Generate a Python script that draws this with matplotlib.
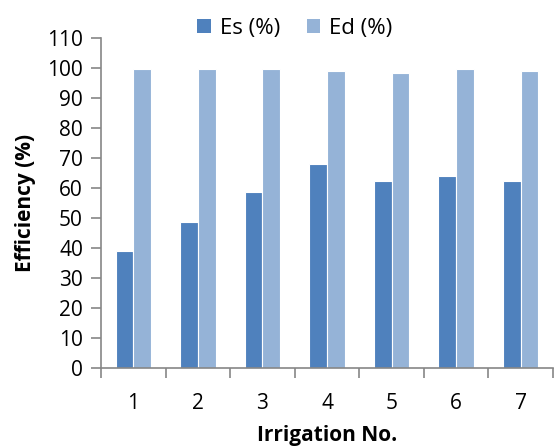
import matplotlib
matplotlib.use("Agg")
import matplotlib.pyplot as plt
import numpy as np
from matplotlib.ticker import FixedLocator, NullFormatter

plt.rcParams['font.family'] = ['Open Sans', 'DejaVu Sans']

irrigations = ["1", "2", "3", "4", "5", "6", "7"]
es_values = [39.0, 48.5, 58.6, 68.0, 62.2, 63.9, 62.2]
ed_values = [99.5, 99.7, 99.5, 99.1, 98.3, 99.5, 99.1]
y_ticks = list(range(0, 111, 10))

es_color = "#4F81BD"
ed_color = "#95B3D7"
axis_gray = "#868686"

fig = plt.figure(figsize=(5.56, 4.47), dpi=100)
ax = fig.add_axes([0.1817, 0.1774, 0.8129, 0.7376])

x = np.arange(len(irrigations))
w = 0.275
ax.bar(x - w / 2, es_values, w, color=es_color, edgecolor="white", linewidth=0.8, label="Es (%)")
ax.bar(x + w / 2, ed_values, w, color=ed_color, edgecolor="white", linewidth=0.8, label="Ed (%)")

ax.set_xlim(-0.5, len(irrigations) - 0.5)
ax.set_ylim(0, 110)
ax.set_yticks(y_ticks)

# category boundaries get tick marks, labels sit at the centres
ax.xaxis.set_major_locator(FixedLocator(np.arange(-0.5, len(irrigations), 1.0)))
ax.xaxis.set_major_formatter(NullFormatter())
ax.xaxis.set_minor_locator(FixedLocator(x))
ax.set_xticklabels(irrigations, minor=True)
ax.tick_params(axis="x", which="major", direction="out", length=7, width=1.2, color=axis_gray)
ax.tick_params(axis="x", which="minor", length=0, pad=18, labelsize=15)
ax.tick_params(axis="y", direction="out", length=7, width=1.2, color=axis_gray, labelsize=15, pad=6)

for side in ("top", "right"):
    ax.spines[side].set_visible(False)
for side in ("left", "bottom"):
    ax.spines[side].set_color(axis_gray)
    ax.spines[side].set_linewidth(1.2)

ax.set_ylabel("Efficiency (%)", fontsize=15, fontweight="bold", labelpad=8)
ax.set_xlabel("Irrigation No.", fontsize=15, fontweight="bold", labelpad=8)

leg = fig.legend(loc="upper center", bbox_to_anchor=(0.53, 1.005), ncol=2, frameon=False,
                 fontsize=16, handlelength=0.6, handleheight=0.6, handletextpad=0.4,
                 columnspacing=1.2)
for h in leg.legend_handles:
    h.set_edgecolor("none")

fig.savefig("out.png", dpi=100)
